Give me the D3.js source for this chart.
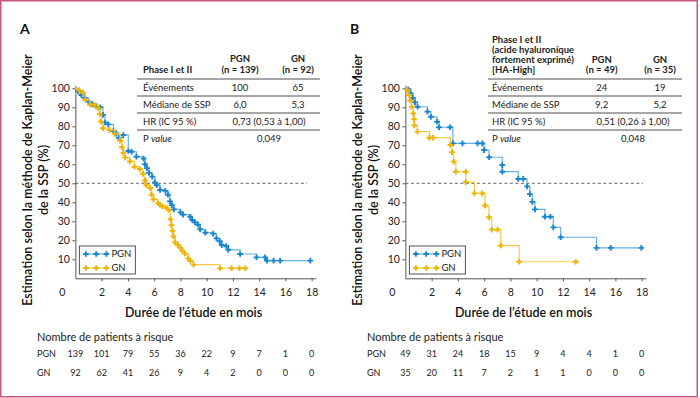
<!DOCTYPE html>
<html>
<head>
<meta charset="utf-8">
<script src="https://cdn.jsdelivr.net/npm/d3@7"></script>
<style>
  body { margin: 0; background: #fff; }
  svg { display: block; font-family: Lato, "Open Sans", sans-serif; }
</style>
</head>
<body>
<svg id="chart" width="700" height="398"></svg>
<script>
// ---- data ----
const xTicks = [2, 4, 6, 8, 10, 12, 14, 16, 18]
const yTicks = [10, 20, 30, 40, 50, 60, 70, 80, 90, 100]
const riskTimes = [0, 2, 4, 6, 8, 10, 12, 14, 16, 18]
const groups = ["PGN", "GN"]

// [mois, SSP %, marqueur (0 = non)]
const pgnA = [[0,100,0],[0.2,98.5],[0.45,96.5],[0.7,95],[1.0,93],[1.3,91.5],[1.6,90.5],[1.9,90],[2.1,86],[2.25,82],[2.5,81],[2.9,77.5],[3.1,76.3],[3.3,74],[3.65,75.4],[4.03,67],[4.28,66.6],[4.65,64],[5.2,63],[5.3,60],[5.45,58],[5.6,55.5],[5.85,53.5],[6.05,50.5],[6.2,49],[6.45,46.5],[6.85,46],[7.05,44],[7.2,40.5],[7.35,38.5],[7.5,36.3],[8.0,34.7],[8.2,33.5],[8.75,32.4],[8.9,30.7],[9.1,29.5],[9.35,28.2],[9.5,25.8],[9.9,24],[10.5,23.5],[10.75,21],[11.0,19.5],[11.15,17.5],[11.5,17],[11.65,15],[12.55,12.8],[13.8,11],[14.45,11],[14.6,9.3],[15.1,9.3],[15.6,9.3],[17.9,9.3]]
const gnA = [[0,100,0],[0.3,99],[0.6,97.5],[0.75,94],[1.1,91.5],[1.5,91],[1.75,89.5],[1.85,86.5],[1.95,82.5],[2.1,79],[2.6,78],[3.0,76],[3.4,72.5],[3.55,69],[3.65,66],[3.8,63.5],[4.15,61.5],[4.5,58.7],[4.9,57.5],[5.15,55],[5.3,51.5],[5.4,49],[5.7,47.5],[5.8,44],[5.95,41.5],[6.3,39.5],[6.45,38.6],[6.6,38],[6.95,37],[7.1,36],[7.25,31],[7.32,28],[7.4,25],[7.47,22],[7.6,19],[7.8,17.5],[8.0,16],[8.15,14.5],[8.35,13],[8.6,10.5],[8.75,9.2],[9.0,7.2],[11.02,7.2,0],[11.02,5.3],[11.9,5.3],[12.5,5.3],[12.95,5.3]]
const pgnB = [[0,100,0],[0.22,99.5],[0.4,97.3],[0.56,94.9],[0.73,92.6],[0.93,90.3],[1.68,87.7],[1.94,85],[2.42,82.4],[2.56,79.5],[3.4,79.5],[3.62,71],[4.35,71],[5.5,71],[5.86,71],[5.99,67.5],[6.38,63.7],[7.38,59.6],[7.38,56.1],[8.6,52.3],[8.98,52.3],[9.27,48.4],[9.48,44.3],[9.67,40.2],[9.87,36.3],[10.63,32.4],[11.05,32.4],[11.27,26.8],[11.83,21.6],[14.56,16],[15.64,16],[17.98,16]]
const gnB = [[0,100,0],[0.15,99],[0.28,96.5],[0.36,93.6],[0.48,90.2],[0.6,86.8],[0.66,83.8],[0.68,80.5],[0.92,77.2],[1.83,74],[2.1,74],[3.42,70.2],[3.55,66.4],[3.68,61.4],[3.84,56.1],[4.6,56.1],[4.6,50.6],[5.26,44.7],[5.85,44.7],[6.07,38.3],[6.37,32.1],[6.58,25.6],[7.03,25.6],[7.27,17.2],[8.67,8.7],[12.98,8.7]]

const riskPgnA = [139, 101, 79, 55, 36, 22, 9, 7, 1, 0]
const riskGnA = [92, 62, 41, 26, 9, 4, 2, 0, 0, 0]
const riskPgnB = [49, 31, 24, 18, 15, 9, 4, 4, 1, 0]
const riskGnB = [35, 20, 11, 7, 2, 1, 1, 0, 0, 0]

const rowNames = ["Événements", "Médiane de SSP", "HR (IC 95 %)", "P value"]
const headA = ["Phase I et II"]
const headB = ["Phase I et II", "(acide hyaluronique", "fortement exprimé)", "[HA-High]"]
const nA = ["(n = 139)", "(n = 92)"]
const nB = ["(n = 49)", "(n = 35)"]
const eventsA = ["100", "65"], medianA = ["6,0", "5,3"], hrA = "0,73 (0,53 à 1,00)", pA = "0,049"
const eventsB = ["24", "19"], medianB = ["9,2", "5,2"], hrB = "0,51 (0,26 à 1,00)", pB = "0,048"

const markColor = {PGN: "#1a86d0", GN: "#f0b400"}
const lineColor = {PGN: "#62b0e6", GN: "#f4cb4c"}

const svg = d3.select("#chart")

// frame
svg.append("rect")
    .attr("x", 0.75).attr("y", 0.75).attr("width", 696.5).attr("height", 396)
    .attr("fill", "none").attr("stroke", "#c65a7d").attr("stroke-width", 1.5)

function drawPanel(o) {
    const g = svg.append("g").attr("transform", `translate(${o.dx},0)`)
    const x = d3.scaleLinear().domain([0, 18.3]).range([75.4, 75.4 + 18.3 * 13.125])
    const y = d3.scaleLinear().domain([0, 101.5]).range([278.3, 278.3 - 101.5 * 1.9])

    g.append("text").attr("x", 20).attr("y", 34)
        .style("font-size", "14px").style("font-weight", "bold").attr("fill", "#111")
        .text(o.letter)

    // axes
    const ax = g.append("g").attr("transform", `translate(0,${y(0)})`)
        .call(d3.axisBottom(x).tickValues(xTicks).tickSize(3).tickSizeOuter(0).tickPadding(7.5))
    const ay = g.append("g").attr("transform", `translate(${x(0)},0)`)
        .call(d3.axisLeft(y).tickValues(yTicks).tickSize(3).tickSizeOuter(0).tickPadding(2.5))
    ;[ax, ay].forEach(a => {
        a.select(".domain").attr("stroke", "#555")
        a.selectAll(".tick line").attr("stroke", "#555")
        a.selectAll("text").style("font-size", "10.5px").style("font-family", "Lato, sans-serif").attr("fill", "#222")
    })
    g.append("text").attr("x", x(0) - 13).attr("y", y(0) + 18)
        .attr("text-anchor", "middle").style("font-size", "10.5px").attr("fill", "#222").text("0")

    // median line
    g.append("line")
        .attr("x1", x(0)).attr("x2", x(o.dashEnd)).attr("y1", y(50)).attr("y2", y(50))
        .attr("stroke", "#555").attr("stroke-width", 0.9).attr("stroke-dasharray", "3,2.5")

    // axis titles
    g.append("text").attr("x", (x(0) + x(18)) / 2).attr("y", 317)
        .attr("text-anchor", "middle").style("font-size", "12.5px").style("font-weight", 600)
        .attr("fill", "#111").text("Durée de l’étude en mois")
    const yt = g.append("text").attr("transform", `translate(${x(0) - 43},180) rotate(-90)`)
        .attr("text-anchor", "middle").style("font-size", "12.5px").style("font-weight", 600).attr("fill", "#111")
    yt.append("tspan").attr("x", 0).attr("y", 0).text("Estimation selon la méthode de Kaplan-Meier")
    yt.append("tspan").attr("x", 0).attr("y", 16).text("de la SSP (%)")

    // curves
    const line = d3.line().x(d => x(d[0])).y(d => y(d[1])).curve(d3.curveStepAfter)
    const sym = d3.symbol(d3.symbolCross, 18)
    o.series.forEach((s, i) => {
        const name = groups[i]
        g.append("path").attr("d", line(s)).attr("fill", "none")
            .attr("stroke", lineColor[name]).attr("stroke-width", 1.2)
        g.append("g").selectAll("path").data(s.filter(d => d[2] !== 0)).join("path")
            .attr("transform", d => `translate(${x(d[0])},${y(d[1])})`)
            .attr("d", sym).attr("fill", markColor[name])
    })

    // legend
    const lg = g.append("g").attr("transform", `translate(${x(0) + 4},246)`)
    lg.append("rect").attr("width", 56).attr("height", 28)
        .attr("fill", "#fff").attr("stroke", "#555").attr("stroke-width", 1)
    groups.forEach((name, i) => {
        const yy = 8 + i * 14
        lg.append("line").attr("x1", 6.5).attr("x2", 27).attr("y1", yy).attr("y2", yy)
            .attr("stroke", lineColor[name]).attr("stroke-width", 1.2)
        lg.selectAll(null).data([6.5, 16.8, 27]).join("path")
            .attr("transform", d => `translate(${d},${yy})`).attr("d", sym).attr("fill", markColor[name])
        lg.append("text").attr("x", 32).attr("y", yy + 3.3)
            .style("font-size", "9.5px").attr("fill", "#222").text(name)
    })

    // table
    const t = o.table
    const tg = g.append("g")
    t.head.forEach((h, i) => {
        tg.append("text").attr("x", t.textLeft).attr("y", 73 - (t.head.length - 1 - i) * t.pitch)
            .style("font-size", "9.5px").style("font-weight", "bold").attr("fill", "#222").text(h)
    })
    groups.forEach((name, i) => {
        tg.append("text").attr("x", t.cols[i]).attr("y", 73 - t.nPitch).attr("text-anchor", "middle")
            .style("font-size", "9.5px").style("font-weight", "bold").attr("fill", "#222").text(name)
        tg.append("text").attr("x", t.cols[i]).attr("y", 73).attr("text-anchor", "middle")
            .style("font-size", "9.5px").style("font-weight", "bold").attr("fill", "#222").text(t.n[i])
    })
    ;[79, 96, 113, 130].forEach(ly => {
        tg.append("line").attr("x1", t.left).attr("x2", t.right).attr("y1", ly).attr("y2", ly)
            .attr("stroke", "#8a8a8a").attr("stroke-width", 1.3)
    })
    rowNames.forEach((r, i) => {
        const tx = tg.append("text").attr("x", t.textLeft).attr("y", 79 + i * 17 + 11.5)
            .style("font-size", "9.5px").attr("fill", "#222")
        if (r === "P value") {
            tx.append("tspan").text("P ")
            tx.append("tspan").style("font-style", "italic").text("value")
        } else tx.text(r)
    })
    ;[t.events, t.median].forEach((vals, r) => {
        vals.forEach((v, i) => {
            tg.append("text").attr("x", t.cols[i]).attr("y", 79 + r * 17 + 11.5).attr("text-anchor", "middle")
                .style("font-size", "9.5px").attr("fill", "#222").text(v)
        })
    })
    tg.append("text").attr("x", t.mid).attr("y", 79 + 2 * 17 + 11.5).attr("text-anchor", "middle")
        .style("font-size", "9.5px").attr("fill", "#222").text(t.hr)
    tg.append("text").attr("x", t.mid).attr("y", 79 + 3 * 17 + 11.5).attr("text-anchor", "middle")
        .style("font-size", "9.5px").attr("fill", "#222").text(t.p)

    // risk table
    g.append("text").attr("x", 37).attr("y", 340.5)
        .style("font-size", "11px").attr("fill", "#222").text("Nombre de patients à risque")
    o.risk.forEach((vals, i) => {
        const ry = 356.5 + i * 19
        g.append("text").attr("x", 37).attr("y", ry).style("font-size", "9px").attr("fill", "#222").text(groups[i])
        g.append("g").selectAll("text").data(vals).join("text")
            .attr("x", (d, j) => x(riskTimes[j])).attr("y", ry).attr("text-anchor", "middle")
            .style("font-size", "9px").attr("fill", "#222").text(d => d)
    })
}

drawPanel({
    dx: 0, letter: "A", dashEnd: 17.65,
    series: [pgnA, gnA],
    risk: [riskPgnA, riskGnA],
    table: {head: headA, n: nA, pitch: 10, nPitch: 11.5, left: 137, right: 320, textLeft: 143,
            cols: [240, 298], mid: 269, events: eventsA, median: medianA, hr: hrA, p: pA}
})
drawPanel({
    dx: 330, letter: "B", dashEnd: 18.1,
    series: [pgnB, gnB],
    risk: [riskPgnB, riskGnB],
    table: {head: headB, n: nB, pitch: 10, nPitch: 10, left: 158, right: 352, textLeft: 162,
            cols: [271.7, 330], mid: 303, events: eventsB, median: medianB, hr: hrB, p: pB}
})
</script>
</body>
</html>
